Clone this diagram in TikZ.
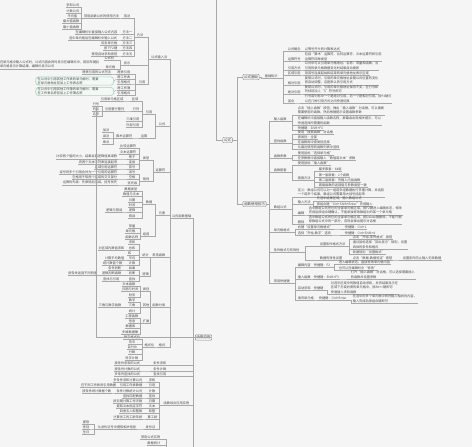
\documentclass[tikz,border=0pt]{standalone}
\usepackage{fontspec}
\newfontfamily\cjk{Noto Sans CJK SC}
\XeTeXlinebreaklocale "zh"
\definecolor{bgc}{HTML}{F5F5F5}
\definecolor{lnc}{HTML}{A8A8A8}
\definecolor{txc}{HTML}{4A4A4A}
\definecolor{bxd}{HTML}{8C8C8C}
\definecolor{bxf}{HTML}{EFEFEF}
\definecolor{gnd}{HTML}{9ED6BB}
\definecolor{gnf}{HTML}{F3FAF6}
\tikzset{
 ln/.style={draw=lnc,line width=0.35pt},
 lf/.style={font=\cjk\fontsize{3.2}{4.3}\selectfont,text=txc,inner xsep=0.6pt,inner ysep=0.5pt,align=left},
 bx/.style={draw=bxd,fill=bxf,line width=0.4pt,rounded corners=1pt,font=\cjk\fontsize{3.4}{4.3}\selectfont,text=txc,inner xsep=1.4pt,inner ysep=1.2pt},
 gbox/.style={draw=gnd,fill=gnf,line width=0.6pt,rounded corners=3pt,font=\cjk\fontsize{3.2}{4.3}\selectfont,text=txc,inner xsep=2pt,inner ysep=0.5pt,text width=74pt,align=left}
}
\newcommand\LeafL[4]{\node[lf,anchor=south east] (#1) at (#2,#3) {#4};\draw[ln] (#1.south west)--(#1.south east);}
\newcommand\LeafR[4]{\node[lf,anchor=south west] (#1) at (#2,#3) {#4};\draw[ln] (#1.south west)--(#1.south east);}
\newcommand\EdgeL[3]{\draw[ln] (#1.south east) -| ([xshift=-#3pt]#2.south west) -- (#2.south west);}
\newcommand\EdgeR[3]{\draw[ln] (#2.south east) -- ([xshift=#3pt]#2.south east) |- (#1.south west);}
\newcommand\EdgesL[3]{\foreach \cn in {#3}{\EdgeL{\cn}{#1}{#2}}}
\newcommand\EdgesR[3]{\foreach \cn in {#3}{\EdgeR{\cn}{#1}{#2}}}
\begin{document}
\begin{tikzpicture}[x=1pt,y=-1pt]
\fill[bgc] (0,0) rectangle (472,447);
\useasboundingbox (0,0) rectangle (472,447);

% ---------------- centre and right side ----------------
\node[bx] (R0) at (227.5,140) {公式};
\coordinate (top) at (216,0);
\coordinate (j1) at (216,140);
\draw[ln] (top) -- (j1) -- (R0.west);
\node[bx] (M1) at (251,77) {公式基础};
\node[bx] (M2) at (254.5,204) {函数使用技巧};
\draw[ln] (R0.east) -- ([xshift=5pt]R0.east) |- (M1.west);
\draw[ln] (R0.east) -- ([xshift=5pt]R0.east) |- (M2.west);

\LeafR{N1}{264}{78}{基础知识}
\draw[ln] (M1.east) -- ([xshift=2pt]M1.east) |- (N1.south west);
\LeafR{L1}{287}{51.5}{公式概念}
\LeafR{L2}{287}{61}{运算符号}
\LeafR{L3}{287}{70}{引用方式}
\LeafR{L4}{287}{75}{区域引用}
\LeafR{L5}{287}{85}{相对引用}
\LeafR{L6}{287}{94}{绝对引用}
\LeafR{L7}{287}{103}{混合}
\EdgesR{N1}{5}{L1,L2,L3,L4,L5,L6,L7}
\LeafR{L1d}{304}{51.5}{以等号开头的计算表达式}
\LeafR{L2d}{304}{61}{包括“算术”运算符、比较运算符、文本运算符和引用\\运算符四种类型}
\LeafR{L3d}{304}{70}{公式中可以引用单元格地址、名称、常量和函数，当\\引用的单元格数据变化时结果自动更新}
\LeafR{L4d}{304}{75}{用冒号连接起始和结束的单元格地址表示区域}
\LeafR{L5d}{304}{85}{复制公式时，引用的单元格地址会随公式位置的变化\\而自动调整，这是默认的引用方式}
\LeafR{L6d}{304}{94}{复制公式时，引用的单元格地址保持不变，在行号和\\列标前加上“\$”符号即可}
\LeafR{L7d}{304}{103}{行号或列标中一个是绝对引用，另一个是相对引用，按F4键可\\以在几种引用方式之间快速切换}
\EdgeR{L1d}{L1}{1.5}\EdgeR{L2d}{L2}{1.5}\EdgeR{L3d}{L3}{1.5}\EdgeR{L4d}{L4}{1.5}
\EdgeR{L5d}{L5}{1.5}\EdgeR{L6d}{L6}{1.5}\EdgeR{L7d}{L7}{1.5}

\LeafR{O1}{273}{121}{输入函数}
\LeafR{O2}{273}{143}{查找函数}
\LeafR{O3}{273}{158}{函数参数}
\LeafR{O4}{273}{172}{函数嵌套}
\LeafR{O5}{273}{209}{数组公式}
\LeafR{O6}{273}{232}{单元格格式}
\LeafR{O7}{273}{252}{条件格式与有效性}
\LeafR{O8}{273}{283}{常用快捷键}
\foreach \cn in {O1,O2,O3,O4,O5,O6,O7,O8}{\draw[ln] (M2.east) -- ([xshift=3pt]M2.east) |- (\cn.south west);}

\LeafR{o11}{297}{115}{点击“插入函数”按钮，弹出“插入函数”对话框，可以搜索\\需要使用的函数，然后根据提示设置函数参数}
\LeafR{o12}{297}{125}{在编辑栏中直接输入函数名称，屏幕会出现相关提示，可以\\快速选择所需要的函数}
\LeafR{o13}{297}{130}{快捷键：Shift+F3}
\EdgesR{O1}{5}{o11,o12,o13}
\LeafR{o21}{297}{134}{使用“搜索函数”对话框}
\LeafR{o22}{297}{139}{按类别：全部}
\LeafR{o23}{297}{144}{在函数库中按类别选择}
\LeafR{o24}{297}{149}{从最近使用的函数列表中选择}
\EdgesR{O2}{5}{o21,o22,o23,o24}
\LeafR{o31}{297}{155}{使用鼠标“选择单元格”}
\LeafR{o32}{297}{160}{在参数框中直接输入“数值或文本”参数}
\EdgesR{O3}{5}{o31,o32}
\LeafR{o41}{297}{165}{使用鼠标“插入函数”}
\LeafR{o42}{297}{180}{嵌套方法}
\EdgesR{O4}{5}{o41,o42}
\LeafR{o421}{318}{171}{最多嵌套：64层}
\LeafR{o422}{318}{177}{第一层嵌套：1个函数}
\LeafR{o423}{318}{182}{第二层嵌套：先输入内层函数}
\LeafR{o424}{318}{187}{嵌套函数的返回值与参数类型一致}
\EdgesR{o42}{3}{o421,o422,o423,o424}
\LeafR{o51}{297}{197}{定义：数组公式可以对一组或多组数据执行多重计算，并返回\\一个或多个结果，数组公式需要用大括号括起来}
\LeafR{o52}{297}{204}{输入方法}
\LeafR{o521}{316}{201}{先选中结果区域，输入数组公式}
\LeafR{o522}{316}{206.2}{按组合键“Ctrl+Shift+Enter”完成输入}
\EdgesR{o52}{2}{o521,o522}
\LeafR{o53}{297}{215}{编辑}
\LeafR{o531}{308}{215}{选中数组公式所在的全部单元格区域，按F2键进入编辑状态，修改\\完成后按组合键确认，不能单独修改数组中的某一个单元格}
\EdgeR{o531}{o53}{1.5}
\LeafR{o54}{297}{224}{删除}
\LeafR{o541}{308}{224}{选中数组公式所在的全部单元格区域，按Delete键删除，不能只删\\除数组公式中的一部分，否则会弹出提示对话框}
\EdgeR{o541}{o54}{1.5}
\EdgesR{O5}{5}{o51,o52,o53,o54}
\LeafR{o61}{297}{229}{右键“设置单元格格式”}
\LeafR{o611}{344}{229}{快捷键：Ctrl+1}
\LeafR{o62}{297}{235}{选择“开始-数字”选项}
\LeafR{o621}{344}{235}{快捷键：Ctrl+Shift+4}
\EdgeR{o611}{o61}{4}\EdgeR{o621}{o62}{4}
\EdgesR{O6}{5}{o61,o62}
\LeafR{o71}{319}{246}{设置条件格式方法}
\LeafR{o711}{352}{239}{点击“开始-条件格式”按钮}
\LeafR{o712}{352}{249}{通过鼠标选择“突出显示”规则，设置\\具体的条件和格式}
\LeafR{o713}{352}{254}{新建规则“设置格式”}
\EdgesR{o71}{3}{o711,o712,o713}
\LeafR{o72}{319}{260}{数据有效性设置}
\LeafR{o721}{352}{260}{点击“数据-数据验证”按钮}
\LeafR{o7211}{402}{260}{设置条件防止输入无效数据}
\EdgeR{o721}{o72}{3}\EdgeR{o7211}{o721}{3}
\EdgesR{O7}{5}{o71,o72}
\LeafR{o81}{297}{267.5}{编辑内容}
\LeafR{o811}{313}{267.5}{快捷键：F2}
\LeafR{o8111}{338}{264.5}{进入编辑状态，直接修改单元格内容}
\LeafR{o8112}{338}{270}{也可以在编辑栏中“修改”}
\EdgeR{o811}{o81}{1}\EdgesR{o811}{3}{o8111,o8112}
\LeafR{o82}{297}{279}{插入函数}
\LeafR{o821}{313}{279}{快捷键：Shift+F3}
\LeafR{o8211}{350}{279}{打开“插入函数”对话框，可以选择需要插入\\的函数并设置参数}
\EdgeR{o821}{o82}{1}\EdgeR{o8211}{o821}{4}
\LeafR{o83}{297}{290}{自动求和}
\LeafR{o831}{313}{290}{快捷键}
\LeafR{o8311}{330}{294}{对选中区域中的数值自动求和，并将结果显示在\\区域下方或右侧的单元格中，按Alt+=键即可\\快速插入求和函数}
\EdgeR{o831}{o83}{1}\EdgeR{o8311}{o831}{3}
\LeafR{o84}{297}{300}{填充单元格}
\LeafR{o841}{318}{300}{快捷键：Ctrl+Enter}
\LeafR{o8411}{352}{303}{在选中的多个单元格中同时输入相同的内容，\\输入完成后按组合键即可}
\EdgeR{o841}{o84}{1.5}\EdgeR{o8411}{o841}{4}
\EdgesR{O8}{5}{o81,o82,o83,o84}

% ---------------- left side ----------------
% block c0
\LeafL{a1}{80}{7}{求和公式}
\LeafL{a2}{80}{13}{计数公式}
\LeafL{a3}{78}{18}{平均值}
\LeafL{a4}{80}{23.5}{最大值函数}
\LeafL{a5}{80}{29}{最小值函数}
\LeafL{a6}{120}{18}{常用函数公式的使用方法}
\EdgesL{a6}{2}{a1,a2,a3,a4,a5}
\LeafL{a7}{131}{18}{用法}
\EdgeL{a6}{a7}{1.5}
\LeafL{b1t}{118}{34}{在编辑栏中直接输入公式内容}
\LeafL{b1}{133}{34}{方法一}
\LeafL{b2t}{118}{40}{选中单元格后在编辑栏中输入公式}
\LeafL{b2}{133}{40}{方法二}
\LeafL{b3t}{118}{45}{双击单元格}
\LeafL{b3}{133}{45}{方法三}
\LeafL{b4t}{118}{50}{按下F2键}
\LeafL{b4}{133}{50}{方法四}
\LeafL{b5t}{118}{56}{使用自动求和按钮}
\LeafL{b5}{133}{56}{方法五}
\EdgeL{b1t}{b1}{1.5}\EdgeL{b2t}{b2}{1.5}\EdgeL{b3t}{b3}{1.5}\EdgeL{b4t}{b4}{1.5}\EdgeL{b5t}{b5}{1.5}
\LeafL{b0}{144}{37}{方法}
\EdgesL{b0}{2}{a7,b1,b2,b3,b4,b5}
\LeafL{d1}{115}{60}{公式栏}
\LeafL{d2t}{100}{69}{在单元格中输入公式时，公式内容会同时显示在编辑栏中，按回车键后\\单元格显示计算结果，编辑栏显示公式}
\LeafL{d2}{116}{69}{单元格}
\EdgeL{d2t}{d2}{2}
\LeafL{d0}{131}{65}{显示}
\EdgesL{d0}{2.5}{d1,d2}
\LeafL{e1t}{112}{74}{跨表引用的公式写法}
\LeafL{e1}{131}{74}{跨表引用}
\EdgeL{e1t}{e1}{2}
\node[gbox,anchor=east] (n1) at (114,81) {在公式中引用其他工作表的单元格时，需要\\在单元格地址前加上工作表名称};
\node[gbox,anchor=east] (n2) at (114,91.5) {在公式中引用其他工作簿的单元格时，需要\\在工作表名称前加上工作簿名称};
\LeafL{g1}{131}{79}{跨工作表}
\LeafL{g2}{131}{84}{引用格式}
\LeafL{g3}{131}{90}{跨工作簿}
\LeafL{g4}{131}{95}{引用格式}
\draw[ln] (n1.east) -- (g1.south west);
\draw[ln] (n2.east) -- (g3.south west);
\LeafL{h0}{146}{84}{引用}
\EdgesL{h0}{2.5}{e1,g1,g2,g3,g4}
\LeafL{c0}{168}{59}{公式输入法}
\EdgesL{c0}{2.5}{b0,d0,h0}

% block il
\LeafL{i1t}{124}{101}{引用单元格区域}
\LeafL{i1}{139}{101}{区域}
\EdgeL{i1t}{i1}{2}
\LeafL{j1}{100}{106}{行号}
\LeafL{j2}{100}{111}{列标}
\LeafL{j3}{100}{116}{名称}
\LeafL{j0t}{125}{111}{引用整行整列}
\EdgesL{j0t}{2}{j1,j2,j3}
\LeafL{j0}{140}{111}{行列}
\EdgeL{j0t}{j0}{2}
\LeafL{k1}{140}{121}{三维引用}
\LeafL{k2}{140}{127}{外部引用}
\LeafL{ik}{153}{114}{引用}
\EdgesL{ik}{2.5}{i1,j0,k1,k2}
\LeafL{l1}{110}{132}{加法}
\LeafL{l2}{110}{138}{减法}
\LeafL{l3}{110}{144}{乘法}
\LeafL{l0t}{133}{138}{算术运算符}
\EdgesL{l0t}{2}{l1,l2,l3}
\LeafL{l0}{148}{138}{运算}
\EdgeL{l0t}{l0}{2}
\LeafL{il}{166}{126}{公式}
\EdgesL{il}{2.5}{ik,l0}

% block mm
\LeafL{m1}{137}{148}{比较运算符}
\LeafL{m2}{137}{154}{文本运算符}
\LeafL{m3t}{118}{159}{比较两个值的大小，结果返回逻辑值真或假}
\LeafL{m3}{136}{159}{等于}
\LeafL{m4t}{118}{164}{将两个文本字符串连接起来}
\LeafL{m4}{136}{164}{连接}
\LeafL{m5t}{118}{169}{区域引用运算符}
\LeafL{m5}{136}{169}{冒号}
\LeafL{m6t}{118}{174}{逗号将多个引用合并为一个引用的运算符}
\LeafL{m6}{136}{174}{逗号}
\LeafL{m7t}{118}{179}{空格用于取两个区域的交叉部分}
\LeafL{m7}{136}{179}{空格}
\LeafL{m8t}{118}{185}{运算优先级：先乘除后加减，括号优先}
\LeafL{m8}{138}{185}{优先级}
\EdgeL{m3t}{m3}{2}\EdgeL{m4t}{m4}{2}\EdgeL{m5t}{m5}{2}\EdgeL{m6t}{m6}{2}\EdgeL{m7t}{m7}{2}\EdgeL{m8t}{m8}{2}
\LeafL{mA}{150}{160}{类型}
\LeafL{mB}{150}{181}{规则}
\EdgesL{mA}{2.5}{m1,m2,m3,m4,m5}
\EdgesL{mB}{2.5}{m6,m7,m8}
\LeafL{mm}{166}{172}{运算符}
\EdgesL{mm}{2}{mA,mB}

% block oq
\LeafL{o1}{138}{191}{数据类型}
\LeafL{o2}{140}{196}{数值与文本}
\LeafL{o3}{136}{202}{日期}
\LeafL{o4}{136}{207}{时间}
\LeafL{o5t}{123}{212}{逻辑与错误}
\LeafL{o5}{136}{212}{逻辑}
\EdgeL{o5t}{o5}{2}
\LeafL{o6}{136}{218}{错误}
\LeafL{o0}{153}{204}{数据}
\EdgesL{o0}{2.5}{o1,o2,o3,o4,o5,o6}
\LeafL{q1}{136}{228}{常量}
\LeafL{q2}{136}{233.5}{单元格}
\LeafL{q3}{139}{239}{函数名称}
\LeafL{q0}{150}{236}{组成}
\EdgesL{q0}{2}{q1,q2,q3}
\LeafL{oq}{166}{215}{元素}
\EdgesL{oq}{2.5}{o0,q0}

% block rs
\LeafL{r1}{136}{244.5}{求和}
\LeafL{r2t}{125}{250}{对区域内数值求和}
\LeafL{r2}{136}{250}{总和}
\LeafL{r3}{132}{255}{和}
\LeafL{r4t}{125}{260}{计算平均数值}
\LeafL{r4}{136}{260}{平均}
\LeafL{r5t}{123}{265}{统计数值个数}
\LeafL{r5}{136}{265}{计数}
\EdgeL{r2t}{r2}{2}\EdgeL{r4t}{r4}{2}\EdgeL{r5t}{r5}{2}
\LeafL{r0}{149.5}{257}{统计}
\EdgesL{r0}{2}{r1,r2,r3,r4,r5}
\LeafL{s1t}{122}{270}{条件判断}
\LeafL{s1}{136}{270}{如果}
\LeafL{s2a}{98}{275.5}{按条件返回不同的值}
\LeafL{s2t}{122}{275.5}{逻辑判断函数}
\LeafL{s2}{136}{275.5}{判断}
\LeafL{s3t}{120}{281}{查找与引用}
\LeafL{s3}{136}{281}{查找}
\EdgeL{s1t}{s1}{2}\EdgeL{s2a}{s2t}{2}\EdgeL{s2t}{s2}{2}\EdgeL{s3t}{s3}{2}
\LeafL{s0}{149.5}{276}{逻辑}
\EdgesL{s0}{2}{s1,s2,s3}
\LeafL{rs}{166}{257}{常用函数}
\EdgesL{rs}{1}{r0,s0}

% block t0
\LeafL{t1}{136}{286.5}{文本函数}
\LeafL{t2}{139}{291.5}{日期与时间}
\LeafL{t3}{136}{297}{财务}
\LeafL{tA}{150}{291.5}{类别}
\EdgesL{tA}{2}{t1,t2,t3}
\LeafL{t4}{136}{302}{数学}
\LeafL{t5t}{122}{307.5}{三角与数学函数}
\LeafL{t5}{136}{307.5}{三角}
\EdgeL{t5t}{t5}{2}
\LeafL{t6}{136}{313}{统计}
\LeafL{tB}{150}{307.5}{其他}
\EdgesL{tB}{2}{t4,t5,t6}
\LeafL{t7}{139}{318}{工程函数}
\LeafL{t8}{136}{323}{信息}
\LeafL{t9}{136}{328}{数据库}
\LeafL{t10}{139}{334}{多维数据集}
\LeafL{tC}{150}{323.5}{扩展}
\EdgesL{tC}{2}{t7,t8,t9,t10}
\LeafL{t0}{166}{307.5}{函数分类}
\EdgesL{t0}{1}{tA,tB,tC}

% block uu
\LeafL{u1}{141}{339.5}{数字格式化}
\LeafL{u2}{136}{344.5}{货币}
\LeafL{u3}{138}{349.5}{百分比}
\LeafL{u4}{136}{354.5}{分数}
\LeafL{u5}{139}{360}{科学计数}
\LeafL{u0}{155}{347}{格式化}
\EdgesL{u0}{2}{u1,u2,u3,u4,u5}
\LeafL{uu}{166}{347}{格式}
\EdgeL{u0}{uu}{1.5}

\LeafL{P1}{192}{218}{公式函数基础}
\EdgesL{P1}{1.5}{c0,il,mm,oq,rs,t0,uu}

% block v
\LeafL{v1t}{141}{365.5}{按条件求和的公式}
\LeafL{v1}{167}{365.5}{条件求和}
\LeafL{v2t}{141}{371}{按条件计数的公式}
\LeafL{v2}{167}{371}{条件计数}
\LeafL{v3t}{141}{376.5}{多条件查找的公式}
\LeafL{v3}{167}{376.5}{查找引用}
\EdgeL{v1t}{v1}{5}\EdgeL{v2t}{v2}{5}\EdgeL{v3t}{v3}{5}

% block w
\LeafL{w1t}{143}{382}{多条件求和计算公式}
\LeafL{w1}{156}{382}{求和}
\LeafL{w2a}{117}{387.5}{在不同工作表间引用数据}
\LeafL{w2t}{143}{387.5}{引用工作表数据}
\LeafL{w2}{156}{387.5}{引用}
\LeafL{w3a}{112}{393}{按条件统计数据个数}
\LeafL{w3t}{143}{393}{条件计数统计公式}
\LeafL{w3}{156}{393}{计数}
\LeafL{w4t}{143}{398}{查找匹配数据}
\LeafL{w4}{156}{398}{查找}
\LeafL{w5t}{143}{403}{按日期计算工作天数}
\LeafL{w5}{156}{403}{日期}
\LeafL{w6t}{143}{408.5}{提取文本指定字符}
\LeafL{w6}{156}{408.5}{文本}
\LeafL{w7t}{143}{413.5}{四舍五入取整数}
\LeafL{w7}{156}{413.5}{取整}
\LeafL{w8t}{143}{419}{计算员工的工龄年龄}
\LeafL{w8}{158}{419}{算工龄}
\EdgeL{w1t}{w1}{2}\EdgeL{w2a}{w2t}{1.5}\EdgeL{w2t}{w2}{2}\EdgeL{w3a}{w3t}{2}\EdgeL{w3t}{w3}{2}
\EdgeL{w4t}{w4}{2}\EdgeL{w5t}{w5}{2}\EdgeL{w6t}{w6}{2}\EdgeL{w7t}{w7}{2}\EdgeL{w8t}{w8}{2}
\LeafL{w9a}{90}{424}{提取}
\LeafL{w9b}{90}{429}{性别}
\LeafL{w9c}{90}{434}{生日}
\LeafL{w9t}{137}{429}{从身份证号中提取相关信息}
\EdgesL{w9t}{3}{w9a,w9b,w9c}
\LeafL{w9}{156}{429}{身份证}
\EdgeL{w9t}{w9}{2}
\LeafL{w0}{190}{405}{函数综合应用实例}
\EdgesL{w0}{3.5}{w1,w2,w3,w4,w5,w6,w7,w8,w9}

% bottom fragments
\LeafL{x1}{161}{439.5}{常用公式实例}
\LeafL{x2}{161}{445}{数据统计}
\coordinate (xb) at (166,447);
\draw[ln] (x1.south east) -| (xb);
\draw[ln] (x2.south east) -| (xb);

% P2
\node[bx] (P2) at (203.5,337.5) {函数应用};
\path ([xshift=-2pt]P2.west) coordinate (pt2);
\coordinate (pb) at (0,447);
\foreach \cn in {P1,v1,v2,v3,w0}{\draw[ln] (P2.west) -- (pt2) |- (\cn.south east);}
\draw[ln] (pt2) -- (pt2 |- pb);
\draw[ln] (P2.east) -| (j1);
\end{tikzpicture}
\end{document}
